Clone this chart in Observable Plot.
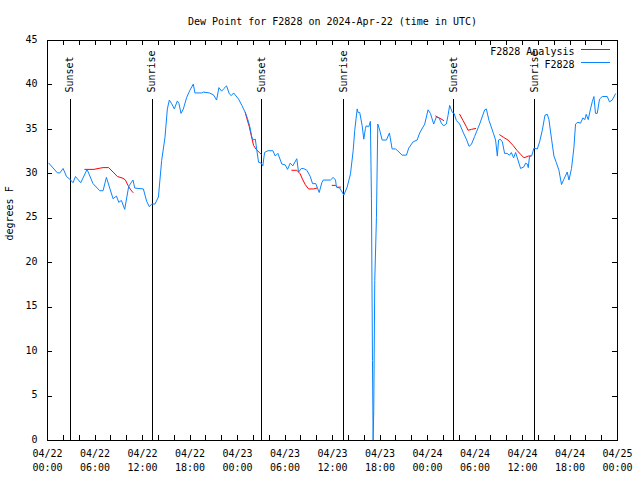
<!DOCTYPE html>
<html><head><meta charset="utf-8">
<script src="https://cdn.jsdelivr.net/npm/d3@7"></script>
<script src="https://cdn.jsdelivr.net/npm/@observablehq/plot@0.6"></script>
<style>
body{margin:0;background:#fff;}
#wrap{position:relative;width:640px;height:480px;}
.sw{position:absolute;height:1px;width:29px;left:581px;}
</style></head><body><div id="wrap"></div>
<script>
// ---- data (hours since 2024-04-22 00:00 UTC, dew point in °F) ----
const title = "Dew Point for F2828 on 2024-Apr-22 (time in UTC)";
const yLabel = "degrees F";
const seriesNames = ["F2828 Analysis", "F2828"];
const seriesColors = ["#ff0000", "#0a84ff"];

const obsHours = [0.16,1.26,1.55,1.97,2.40,2.81,3.23,3.53,4.20,5.00,5.75,6.60,7.02,7.44,8.28,8.71,9.00,9.34,9.75,10.26,10.80,11.02,12.11,12.53,12.87,13.16,13.58,14.01,14.42,14.84,15.14,15.39,15.68,16.02,16.40,16.61,16.86,17.16,17.58,17.99,18.42,18.62,19.47,19.68,20.44,20.95,21.36,21.65,21.99,22.28,22.62,22.96,23.22,23.51,24.14,24.55,24.98,25.27,25.53,25.82,26.03,26.25,26.45,26.66,27.00,27.20,27.42,27.84,28.47,28.77,29.10,29.60,30.03,30.32,30.66,30.99,31.49,31.71,32.05,32.34,32.76,33.19,33.48,33.89,34.14,34.32,34.65,34.83,35.75,36.09,36.38,36.50,36.92,37.43,37.85,38.27,38.61,38.81,39.12,39.24,39.44,39.75,39.95,40.16,40.25,40.58,40.79,40.92,41.05,41.13,41.21,41.34,41.55,41.72,41.97,42.27,42.81,43.19,43.53,43.95,44.24,44.79,45.34,45.63,46.18,46.69,47.01,47.65,48.07,48.37,48.78,49.12,49.46,49.75,50.04,50.38,50.60,50.80,51.14,51.36,51.65,52.06,52.49,52.91,53.25,53.54,53.95,54.59,55.22,55.43,55.77,56.35,56.60,56.82,56.98,57.20,57.45,57.74,58.04,58.37,58.59,58.88,59.13,59.34,59.76,60.19,60.39,60.60,60.73,60.89,61.15,61.45,61.87,62.16,62.50,62.84,63.13,63.34,63.67,63.97,64.26,64.60,64.93,65.23,65.65,65.87,66.19,66.50,66.70,67.00,67.33,67.63,67.88,68.05,68.30,68.59,68.81,69.02,69.22,69.44,69.73,70.07,70.70,70.99,71.33,71.75];
const obsDewpoint = [31.2,30.1,30.1,30.6,29.7,29.4,29.0,29.7,29.0,30.5,28.9,28.1,28.1,29.6,27.2,27.5,26.8,27.0,26.0,28.6,29.3,28.4,28.3,26.9,26.3,26.6,26.6,27.4,31.5,34.1,37.3,38.3,37.9,37.3,38.2,37.9,36.8,37.3,38.6,39.4,40.1,39.1,39.1,39.2,39.1,38.9,38.3,39.7,39.3,39.6,39.9,39.0,38.8,39.1,38.4,37.7,36.9,36.2,35.4,34.1,33.8,33.9,32.6,31.3,31.2,30.9,32.4,32.6,32.6,32.0,32.3,31.1,31.0,30.5,31.2,30.9,31.7,30.2,30.6,30.6,30.4,29.7,28.9,28.9,28.3,27.9,29.0,29.3,29.3,29.6,29.3,28.5,28.4,27.6,28.5,30.0,32.6,34.9,37.3,36.9,36.9,35.4,33.9,35.1,35.4,35.3,35.9,27.2,9.0,0.0,3.4,18.0,25.1,35.6,34.9,33.8,33.8,34.6,32.8,32.8,32.6,32.1,32.1,32.9,33.6,33.8,34.6,35.6,37.2,36.8,35.6,36.4,36.3,35.7,35.4,35.6,36.6,37.7,36.9,36.8,36.0,35.6,34.7,33.9,33.1,33.3,34.2,35.6,37.2,37.3,36.0,34.5,33.8,32.0,33.8,33.9,33.6,32.3,32.3,32.1,32.4,31.8,32.4,31.8,30.6,30.8,31.2,31.1,30.7,32.0,32.0,32.9,32.8,33.6,34.9,36.6,36.7,36.1,33.9,32.0,31.3,30.4,28.8,29.4,30.2,29.3,30.6,33.0,35.6,35.8,35.7,36.3,36.1,36.7,36.1,37.3,38.1,38.7,36.8,36.8,38.4,38.7,38.7,38.1,38.3,39.0];

// analysis series; NaN marks a gap between segments
const anaHours = [4.71,5.88,6.38,7.02,7.73,8.28,8.83,9.54,9.84,10.17,10.51,10.80,11.5,
  24.98,25.19,25.49,25.74,26.03,26.32,26.75,27.00,28.0,
  30.86,31.49,31.92,32.21,32.55,32.97,33.60,34.02,35.0,
  35.96,36.38,36.59,37.01,40.0,
  49.03,49.46,50.04,51.0,
  52.06,52.49,52.91,53.12,53.54,54.08,56.0,
  57.11,57.61,58.17,58.80,59.34,59.76,60.19,60.73,61.02];
const anaDewpoint = [30.5,30.5,30.6,30.7,30.7,30.2,29.7,29.5,29.3,28.7,28.2,27.9,NaN,
  36.9,36.2,35.3,34.3,33.2,32.8,32.4,32.2,NaN,
  30.4,30.4,30.0,29.4,28.8,28.3,28.3,28.4,NaN,
  28.7,28.7,28.5,28.5,NaN,
  36.5,36.3,36.0,NaN,
  36.7,36.0,35.3,34.9,35.0,35.1,NaN,
  34.4,34.1,33.8,33.2,32.6,32.2,31.8,32.0,32.0];

const sunHours = [2.85,13.20,27.08,37.43,51.30,61.53];
const sunLabels = ["Sunset","Sunrise","Sunset","Sunrise","Sunset","Sunrise"];

const yTicks = [0,5,10,15,20,25,30,35,40,45];
const xLabelHours = [0,6,12,18,24,30,36,42,48,54,60,66,72];
const xLabels = ["04/22\n00:00","04/22\n06:00","04/22\n12:00","04/22\n18:00","04/23\n00:00","04/23\n06:00","04/23\n12:00","04/23\n18:00","04/24\n00:00","04/24\n06:00","04/24\n12:00","04/24\n18:00","04/25\n00:00"];

// ---- build ----
const startMs = Date.UTC(2024, 3, 22);
const toDate = h => new Date(startMs + h * 3600e3);
const obs = obsHours.map((h, i) => ({t: toDate(h), v: obsDewpoint[i]}));
const ana = anaHours.map((h, i) => ({t: toDate(h), v: anaDewpoint[i]}));
const sun = sunHours.map((h, i) => ({t: toDate(h), label: sunLabels[i]}));
const xl = xLabelHours.map((h, i) => ({t: toDate(h), label: xLabels[i]}));
const xMinor = d3.utcHour.every(2).range(toDate(0), toDate(72.01));

const font = '"DejaVu Sans Mono", monospace';
const crisp = {stroke: "black", shapeRendering: "crispEdges"};
const plot = Plot.plot({
  width: 640, height: 480,
  marginLeft: 47, marginRight: 23, marginTop: 40, marginBottom: 40,
  style: {fontFamily: font, fontSize: "10px", background: "white", color: "black", overflow: "visible"},
  x: {type: "utc", domain: [toDate(0), toDate(72)], axis: null},
  y: {domain: [0, 45], axis: null},
  marks: [
    Plot.ruleX(sun, {x: "t", insetTop: 59, ...crisp}),
    Plot.text(sun, {x: "t", text: "label", rotate: -90, frameAnchor: "top", dy: 52, textAnchor: "start", lineAnchor: "middle", fill: "black"}),
    Plot.line(ana, {x: "t", y: "v", stroke: seriesColors[0], strokeWidth: 1}),
    Plot.line(obs, {x: "t", y: "v", stroke: seriesColors[1], strokeWidth: 1}),
    Plot.ruleY(yTicks, {y: d => d, insetRight: 565, ...crisp}),
    Plot.ruleY(yTicks, {y: d => d, insetLeft: 565, ...crisp}),
    Plot.ruleX(xMinor, {x: d => d, insetTop: 395, ...crisp}),
    Plot.ruleX(xMinor, {x: d => d, insetBottom: 395, ...crisp}),
    Plot.text(yTicks, {y: d => d, text: d => String(d), frameAnchor: "left", dx: -10, dy: -1, textAnchor: "end", fill: "black"}),
    Plot.text(xl, {x: "t", text: "label", frameAnchor: "bottom", dy: 7, lineAnchor: "top", lineHeight: 1.4, fill: "black"}),
    Plot.text([yLabel], {frameAnchor: "left", dx: -38, rotate: -90, fill: "black"}),
    Plot.text([title], {frameAnchor: "top", dy: -23, fill: "black"}),
    Plot.text([seriesNames[0]], {frameAnchor: "top-right", dx: -43, dy: 7, textAnchor: "end", fill: "black"}),
    Plot.text([seriesNames[1]], {frameAnchor: "top-right", dx: -43, dy: 20, textAnchor: "end", fill: "black"}),
    Plot.frame(crisp)
  ]
});
const wrap = document.getElementById("wrap");
wrap.appendChild(plot);
// legend swatches
[[49, seriesColors[0]], [62, seriesColors[1]]].forEach(([top, c]) => {
  const s = document.createElement("div");
  s.className = "sw"; s.style.top = top + "px"; s.style.background = c;
  wrap.appendChild(s);
});
</script></body></html>
